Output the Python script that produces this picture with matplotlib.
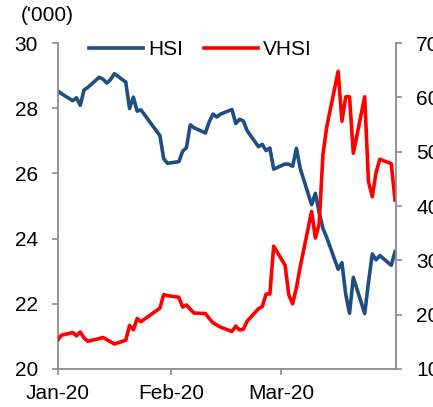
import numpy as np
import pandas as pd
import matplotlib
matplotlib.use("Agg")
import matplotlib.pyplot as plt

plt.rcParams['font.family'] = ['Liberation Sans', 'DejaVu Sans']

# trading days, Q1 2020
jan_days = [2, 3, 6, 7, 8, 9, 10, 13, 14, 15, 16, 17, 20, 21, 22, 23, 24, 29, 30, 31]
feb_days = [3, 4, 5, 6, 7, 10, 11, 12, 13, 14, 17, 18, 19, 20, 21, 24, 25, 26, 27, 28]
mar_days = [2, 3, 4, 5, 6, 9, 10, 11, 12, 13, 16, 17, 18, 19, 20, 23, 24, 25, 26, 27, 30, 31]

# HSI level ('000)
hsi_jan = [28.54, 28.45, 28.23, 28.32, 28.09, 28.56, 28.64, 28.95, 28.89, 28.77,
           28.88, 29.06, 28.80, 27.99, 28.34, 27.91, 27.95, 27.16, 26.45, 26.31]
hsi_feb = [26.36, 26.68, 26.79, 27.49, 27.40, 27.24, 27.58, 27.82, 27.73, 27.82,
           27.96, 27.53, 27.66, 27.61, 27.31, 26.82, 26.89, 26.70, 26.78, 26.13]
hsi_mar = [26.29, 26.28, 26.22, 26.77, 26.15, 25.04, 25.39, 24.80, 24.31, 24.03,
           23.06, 23.26, 22.29, 21.71, 22.81, 21.70, 22.66, 23.53, 23.35, 23.48,
           23.18, 23.60]

# VHSI
vhsi_jan = [15.3, 16.2, 16.7, 16.1, 16.8, 15.7, 15.1, 15.6, 15.8, 15.4,
            15.0, 14.6, 15.3, 18.0, 17.2, 19.3, 18.7, 21.2, 23.7, 23.5]
vhsi_feb = [23.2, 21.4, 21.8, 21.0, 20.3, 20.2, 19.3, 18.5, 18.1, 17.7,
            16.9, 17.9, 17.2, 17.3, 18.8, 21.1, 21.5, 23.8, 23.8, 32.6]
vhsi_mar = [29.1, 23.6, 22.0, 25.0, 28.8, 39.0, 34.1, 36.8, 49.5, 54.6,
            64.8, 55.6, 60.1, 60.1, 49.7, 60.1, 44.5, 41.7, 46.2, 48.6,
            47.8, 41.1]

dates = ([pd.Timestamp(2020, 1, d) for d in jan_days]
         + [pd.Timestamp(2020, 2, d) for d in feb_days]
         + [pd.Timestamp(2020, 3, d) for d in mar_days])
hsi = hsi_jan + hsi_feb + hsi_mar
vhsi = vhsi_jan + vhsi_feb + vhsi_mar

tick_dates = [pd.Timestamp(2020, 1, 2), pd.Timestamp(2020, 2, 1), pd.Timestamp(2020, 3, 1)]
tick_labels = ['Jan-20', 'Feb-20', 'Mar-20']

blue = '#1F4E82'
red = '#FF0000'
grey = '#8C8C8C'
fs = 15

fig = plt.figure(figsize=(4.33, 4.07), dpi=100)
ax = fig.add_axes([0.1328, 0.0934, 0.7817, 0.8009])
ax2 = ax.twinx()

l1, = ax.plot(dates, hsi, color=blue, lw=2.6, label='HSI', solid_joinstyle='round')
l2, = ax2.plot(dates, vhsi, color=red, lw=2.6, label='VHSI', solid_joinstyle='round')

ax.set_xlim(pd.Timestamp(2020, 1, 2), pd.Timestamp(2020, 3, 31, 6))
ax.set_ylim(20, 30)
ax.set_yticks([20, 22, 24, 26, 28, 30])
ax2.set_ylim(10, 70)
ax2.set_yticks([10, 20, 30, 40, 50, 60, 70])
ax.set_xticks(tick_dates)
ax.set_xticklabels(tick_labels)

for a in (ax, ax2):
    for s in a.spines.values():
        s.set_color(grey)
        s.set_linewidth(1.3)
    a.spines['top'].set_visible(False)
    a.tick_params(axis='both', colors=grey, labelcolor='black', labelsize=fs,
                  length=4.5, width=1.2, direction='out')
ax.spines['right'].set_visible(False)
ax2.spines['left'].set_visible(False)
ax2.spines['bottom'].set_visible(False)
ax.tick_params(axis='x', pad=6)
ax.tick_params(axis='y', pad=9.5)
ax2.tick_params(axis='y', pad=10)

fig.text(0.048, 0.961, "('000)", fontsize=fs, va='center', ha='left')

ax2.legend([l1, l2], ['HSI', 'VHSI'], loc='center left', bbox_to_anchor=(0.093, 0.979),
           ncol=2, frameon=False, fontsize=fs, handlelength=2.6, handletextpad=0.24,
           columnspacing=1.0, borderpad=0, borderaxespad=0)

fig.savefig('out.png', dpi=100)
